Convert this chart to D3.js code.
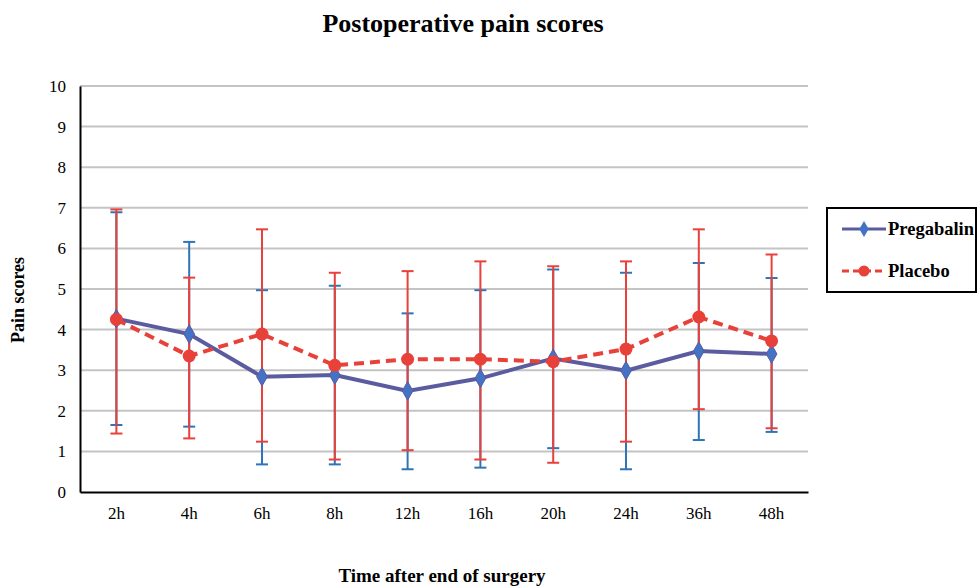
<!DOCTYPE html>
<html><head><meta charset="utf-8">
<script src="https://cdn.jsdelivr.net/npm/d3@7/dist/d3.min.js"></script>
<style>body{margin:0;background:#fff}svg{display:block}</style>
</head><body>
<svg id="chart" width="980" height="587"></svg>
<script>
const categories = ["2h","4h","6h","8h","12h","16h","20h","24h","36h","48h"];
const pregabalin = [4.27,3.89,2.84,2.88,2.49,2.80,3.29,2.99,3.47,3.40];
const pregabalinUpper = [6.89,6.16,4.97,5.08,4.40,4.97,5.48,5.40,5.64,5.27];
const pregabalinLower = [1.65,1.61,0.68,0.68,0.56,0.60,1.08,0.56,1.28,1.48];
const placebo = [4.25,3.35,3.89,3.12,3.27,3.27,3.21,3.52,4.31,3.72];
const placeboUpper = [6.96,5.28,6.47,5.40,5.44,5.68,5.56,5.68,6.47,5.85];
const placeboLower = [1.44,1.32,1.24,0.80,1.03,0.80,0.72,1.24,2.04,1.57];
const yTicks = [0,1,2,3,4,5,6,7,8,9,10];
const seriesNames = ["Pregabalin","Placebo"];

(function(){
const svg = d3.select("#chart");
const pL = 80, pR = 808, pT = 86, pB = 492;
const x = d3.scaleBand().domain(categories).range([pL, pR]);
const y = d3.scaleLinear().domain([0,10]).range([pB, pT]);
const font = "'Liberation Serif','Times New Roman',serif";

// gridlines
svg.append("g").selectAll("line").data(yTicks.filter(d=>d>0)).join("line")
  .attr("x1", pL).attr("x2", pR)
  .attr("y1", d=>y(d)).attr("y2", d=>y(d))
  .attr("stroke", "#c4c4c4").attr("stroke-width", 2);

// y axis
const yAxis = svg.append("g").attr("transform", `translate(${pL},0)`)
  .call(d3.axisLeft(y).tickValues(yTicks).tickSize(0).tickPadding(14));
yAxis.select(".domain").attr("stroke","#000").attr("stroke-width",2);
yAxis.selectAll("text").attr("font-family", font).attr("font-size", 17).attr("fill","#000");

// x axis
const xAxis = svg.append("g").attr("transform", `translate(0,${pB})`)
  .call(d3.axisBottom(x).tickSize(0).tickPadding(15));
xAxis.select(".domain").attr("stroke","#000").attr("stroke-width",2);
xAxis.selectAll("text").attr("font-family", font).attr("font-size", 17).attr("fill","#000");

const cx = d => x(d) + x.bandwidth()/2;
const cap = 6;

function errorBars(up, lo, color) {
  const g = svg.append("g").attr("stroke", color).attr("stroke-width", 2);
  categories.forEach((c,i) => {
    g.append("line").attr("x1", cx(c)).attr("x2", cx(c)).attr("y1", y(up[i])).attr("y2", y(lo[i]));
    g.append("line").attr("x1", cx(c)-cap).attr("x2", cx(c)+cap).attr("y1", y(up[i])).attr("y2", y(up[i]));
    g.append("line").attr("x1", cx(c)-cap).attr("x2", cx(c)+cap).attr("y1", y(lo[i])).attr("y2", y(lo[i]));
  });
}
errorBars(pregabalinUpper, pregabalinLower, "#2e74b8");
errorBars(placeboUpper, placeboLower, "#e8413a");

const line = d3.line().x((d,i)=>cx(categories[i])).y(d=>y(d));
svg.append("path").datum(pregabalin).attr("d", line)
  .attr("fill","none").attr("stroke","#5b5ba0").attr("stroke-width",4);
svg.append("path").datum(placebo).attr("d", line)
  .attr("fill","none").attr("stroke","#e8413a").attr("stroke-width",4).attr("stroke-dasharray","10,6");

const diamond = d3.symbol().type(d3.symbolDiamond).size(100);
svg.append("g").selectAll("path").data(pregabalin).join("path")
  .attr("d", diamond)
  .attr("transform", (d,i)=>`translate(${cx(categories[i])},${y(d)})`)
  .attr("fill","#4472c4").attr("stroke","#5b5ba0").attr("stroke-width",1);
svg.append("g").selectAll("circle").data(placebo).join("circle")
  .attr("cx",(d,i)=>cx(categories[i])).attr("cy", d=>y(d)).attr("r",6.5)
  .attr("fill","#e8413a");

// titles
svg.append("text").attr("x", 463).attr("y", 32).attr("text-anchor","middle")
  .attr("font-family", font).attr("font-weight","bold").attr("font-size", 26)
  .text("Postoperative pain scores");
svg.append("text").attr("x", 442).attr("y", 582).attr("text-anchor","middle")
  .attr("font-family", font).attr("font-weight","bold").attr("font-size", 19)
  .text("Time after end of surgery");
svg.append("text").attr("transform","translate(24,300) rotate(-90)").attr("text-anchor","middle")
  .attr("font-family", font).attr("font-weight","bold").attr("font-size", 18)
  .text("Pain scores");

// legend
const lg = svg.append("g");
lg.append("rect").attr("x",827).attr("y",208).attr("width",149).attr("height",84)
  .attr("fill","#fff").attr("stroke","#000").attr("stroke-width",2);
const ly = [229, 271];
lg.append("line").attr("x1",842).attr("x2",886).attr("y1",ly[0]).attr("y2",ly[0])
  .attr("stroke","#5b5ba0").attr("stroke-width",3);
lg.append("path").attr("d", d3.symbol().type(d3.symbolDiamond).size(75)())
  .attr("transform",`translate(864,${ly[0]})`).attr("fill","#4472c4");
lg.append("line").attr("x1",842).attr("x2",886).attr("y1",ly[1]).attr("y2",ly[1])
  .attr("stroke","#e8413a").attr("stroke-width",3).attr("stroke-dasharray","7,4");
lg.append("circle").attr("cx",864).attr("cy",ly[1]).attr("r",5.5).attr("fill","#e8413a");
lg.selectAll("text.lt").data(seriesNames).join("text").attr("class","lt")
  .attr("x",888).attr("y",(d,i)=>ly[i]+6)
  .attr("font-family", font).attr("font-weight","bold").attr("font-size",18.5)
  .text(d=>d);
})();
</script>
</body></html>
